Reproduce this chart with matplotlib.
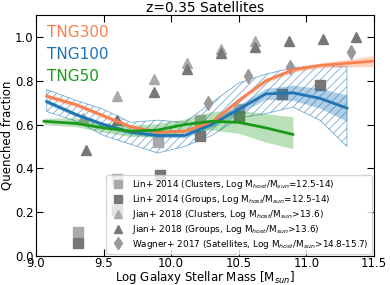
import matplotlib
matplotlib.use("Agg")
import matplotlib.pyplot as plt

plt.rcParams["hatch.linewidth"] = 0.6

# simulation curves
tng300_x = [9.08, 9.3, 9.5, 9.7, 9.9, 10.1, 10.3, 10.5, 10.7, 10.9, 11.1, 11.3, 11.5]
tng300_y = [0.73, 0.69, 0.64, 0.59, 0.565, 0.57, 0.61, 0.71, 0.80, 0.85, 0.87, 0.88, 0.89]
tng300_err = [0.01, 0.01, 0.01, 0.01, 0.01, 0.01, 0.01, 0.01, 0.01, 0.01, 0.012, 0.017, 0.025]

tng100_x = [9.08, 9.3, 9.5, 9.7, 9.9, 10.1, 10.3, 10.5, 10.7, 10.9, 11.1, 11.3]
tng100_y = [0.705, 0.645, 0.60, 0.565, 0.55, 0.55, 0.60, 0.67, 0.74, 0.745, 0.72, 0.675]
tng100_err = [0.01, 0.01, 0.01, 0.01, 0.01, 0.01, 0.015, 0.02, 0.025, 0.035, 0.045, 0.06]
tng100_hi = [0.76, 0.71, 0.67, 0.61, 0.62, 0.61, 0.70, 0.79, 0.83, 0.86, 0.87, 0.865]
tng100_lo = [0.66, 0.615, 0.55, 0.51, 0.47, 0.50, 0.55, 0.63, 0.65, 0.68, 0.62, 0.50]

tng50_x = [9.06, 9.3, 9.5, 9.7, 9.9, 10.1, 10.3, 10.5, 10.7, 10.9]
tng50_y = [0.615, 0.605, 0.585, 0.57, 0.575, 0.60, 0.615, 0.61, 0.585, 0.555]
tng50_lo = [0.60, 0.59, 0.565, 0.545, 0.545, 0.565, 0.575, 0.56, 0.52, 0.49]
tng50_hi = [0.63, 0.63, 0.61, 0.595, 0.605, 0.625, 0.66, 0.665, 0.65, 0.635]

# observations
lin_cl_x = [9.31, 9.6, 9.9, 10.21, 10.5]
lin_cl_y = [0.11, 0.35, 0.52, 0.62, 0.67]
lin_gr_x = [9.31, 9.6, 9.92, 10.21, 10.5, 10.82, 11.1]
lin_gr_y = [0.06, 0.21, 0.37, 0.55, 0.64, 0.74, 0.78]
jian_cl_x = [9.35, 9.6, 9.87, 10.12, 10.37, 10.62]
jian_cl_y = [0.63, 0.73, 0.81, 0.88, 0.945, 0.98]
jian_gr_x = [9.37, 9.6, 9.87, 10.12, 10.37, 10.62, 10.87, 11.12, 11.37]
jian_gr_y = [0.485, 0.62, 0.75, 0.855, 0.925, 0.955, 0.98, 0.99, 1.0]
wagner_x = [10.27, 10.57, 10.88, 11.33]
wagner_y = [0.70, 0.82, 0.865, 0.93]

c300 = "#fa7f4f"
c100 = "#1f74b4"
c50 = "#1a9a1a"

fig = plt.figure(figsize=(3.9, 2.85), dpi=100)
ax = fig.add_axes([0.092, 0.102, 0.867, 0.845])

# TNG100 hatched region
ax.fill_between(tng100_x, tng100_lo, tng100_hi, facecolor="none",
                edgecolor=c100, hatch="////", linewidth=0.6, alpha=0.6, zorder=1)

ax.plot(lin_cl_x, lin_cl_y, "s", color="#aaaaaa", ms=7, zorder=2,
        label=r"Lin+ 2014 (Clusters, Log M$_{host}$/M$_{sun}$=12.5-14)")
ax.plot(lin_gr_x, lin_gr_y, "s", color="#777777", ms=7, zorder=2,
        label=r"Lin+ 2014 (Groups, Log M$_{host}$/M$_{sun}$=12.5-14)")
ax.plot(jian_cl_x, jian_cl_y, "^", color="#aaaaaa", ms=7, zorder=2,
        label=r"Jian+ 2018 (Clusters, Log M$_{host}$/M$_{sun}$>13.6)")
ax.plot(jian_gr_x, jian_gr_y, "^", color="#777777", ms=7, zorder=2,
        label=r"Jian+ 2018 (Groups, Log M$_{host}$/M$_{sun}$>13.6)")
ax.plot(wagner_x, wagner_y, "d", color="#999999", ms=7, zorder=2,
        label=r"Wagner+ 2017 (Satellites, Log M$_{host}$/M$_{sun}$>14.8-15.7)")

lo300 = [y - e for y, e in zip(tng300_y, tng300_err)]
hi300 = [y + e for y, e in zip(tng300_y, tng300_err)]
lo100 = [y - e for y, e in zip(tng100_y, tng100_err)]
hi100 = [y + e for y, e in zip(tng100_y, tng100_err)]
ax.fill_between(tng300_x, lo300, hi300, color=c300, alpha=0.35, lw=0, zorder=3)
ax.fill_between(tng100_x, lo100, hi100, color=c100, alpha=0.35, lw=0, zorder=3)
ax.fill_between(tng50_x, tng50_lo, tng50_hi, color=c50, alpha=0.3, lw=0, zorder=3)

ax.plot(tng300_x, tng300_y, color=c300, lw=2.0, zorder=4)
ax.plot(tng100_x, tng100_y, color=c100, lw=2.0, zorder=4)
ax.plot(tng50_x, tng50_y, color=c50, lw=2.0, zorder=4)

ax.text(9.08, 1.02, "TNG300", color=c300, fontsize=11, va="center")
ax.text(9.08, 0.92, "TNG100", color=c100, fontsize=11, va="center")
ax.text(9.08, 0.82, "TNG50", color=c50, fontsize=11, va="center")

ax.set_xlim(9.0, 11.5)
ax.set_ylim(0.0, 1.1)
ax.set_xticks([9.0, 9.5, 10.0, 10.5, 11.0, 11.5])
ax.set_yticks([0.0, 0.2, 0.4, 0.6, 0.8, 1.0])
ax.tick_params(direction="in", top=True, right=True, length=5, labelsize=8.5, pad=1.5)
ax.tick_params(axis="x", pad=0.5)

ax.set_xlabel(r"Log Galaxy Stellar Mass [M$_{sun}$]", fontsize=8.5, labelpad=-0.5)
ax.set_ylabel("Quenched fraction", fontsize=8.5, labelpad=1)
ax.set_title("z=0.35 Satellites", fontsize=10, pad=2)

leg = ax.legend(loc="lower right", fontsize=6.4, framealpha=0.8, borderaxespad=0.25,
                handletextpad=0.6, labelspacing=0.2, borderpad=0.35, markerscale=0.9)
leg.get_frame().set_edgecolor("#cccccc")

fig.savefig("out.png", dpi=100)
